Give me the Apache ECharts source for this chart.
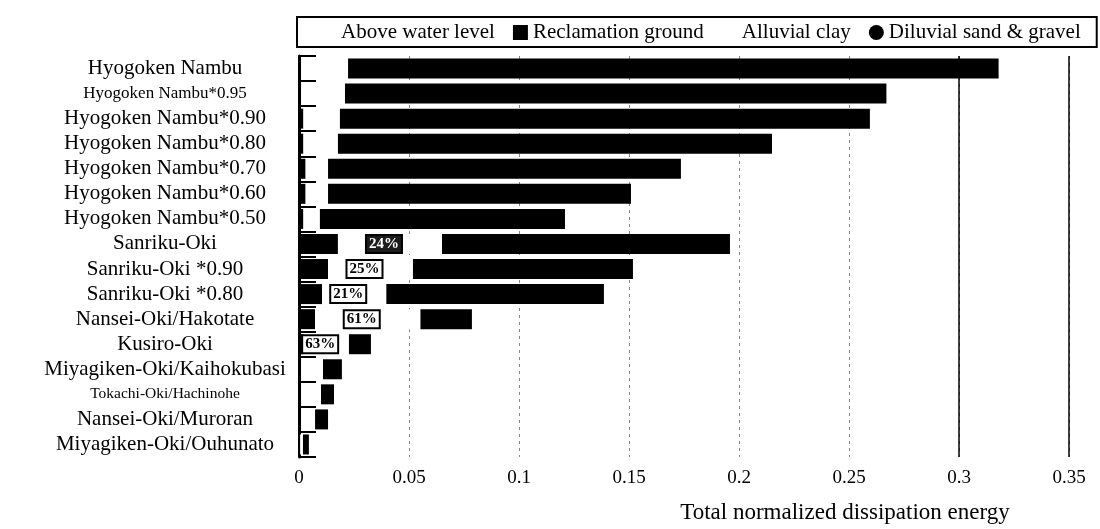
<!DOCTYPE html>
<html>
<head>
<meta charset="utf-8">
<script src="https://cdn.jsdelivr.net/npm/echarts@6/dist/echarts.min.js"></script>
<style>
  html, body { margin: 0; padding: 0; background: #fff; }
  #chart { width: 1100px; height: 529px; }
</style>
</head>
<body>
<div id="chart"></div>
<script>
// Earthquake records / scaled inputs, top to bottom
const categories = [
  'Hyogoken Nambu',
  'Hyogoken Nambu*0.95',
  'Hyogoken Nambu*0.90',
  'Hyogoken Nambu*0.80',
  'Hyogoken Nambu*0.70',
  'Hyogoken Nambu*0.60',
  'Hyogoken Nambu*0.50',
  'Sanriku-Oki',
  'Sanriku-Oki *0.90',
  'Sanriku-Oki *0.80',
  'Nansei-Oki/Hakotate',
  'Kusiro-Oki',
  'Miyagiken-Oki/Kaihokubasi',
  'Tokachi-Oki/Hachinohe',
  'Nansei-Oki/Muroran',
  'Miyagiken-Oki/Ouhunato'
];

// Normalized dissipation energy per soil layer (stacked left to right)
const aboveWater   = [0, 0, 0, 0, 0, 0, 0, 0, 0, 0, 0, 0, 0, 0, 0, 0];
const reclamation  = [0.001, 0.001, 0.002, 0.002, 0.003, 0.003, 0.002, 0.0177, 0.0132, 0.0105, 0.0073, 0.002, 0.001, 0.001, 0.001, 0.0005];
const alluvialClay = [0.0213, 0.0199, 0.0166, 0.0157, 0.0102, 0.0102, 0.0075, 0.0473, 0.0386, 0.0292, 0.0479, 0.0207, 0.0099, 0.009, 0.0063, 0.0013];
const diluvial     = [0.2957, 0.2461, 0.2409, 0.1973, 0.1604, 0.1377, 0.1114, 0.1309, 0.1000, 0.0989, 0.0234, 0.0100, 0.0086, 0.0059, 0.0059, 0.0027];

// Records whose alluvial-clay share of the total is annotated
const shareLabelled = ['Sanriku-Oki', 'Sanriku-Oki *0.90', 'Sanriku-Oki *0.80', 'Nansei-Oki/Hakotate', 'Kusiro-Oki'];
const shadedShare = ['Sanriku-Oki'];

// Category names set in a smaller type
const smallNames = { 'Hyogoken Nambu*0.95': 17, 'Tokachi-Oki/Hachinohe': 15.5 };

const FONT = "'Liberation Serif', 'Times New Roman', serif";

const total = i => aboveWater[i] + reclamation[i] + alluvialClay[i] + diluvial[i];
const sharePct = i => Math.round(100 * alluvialClay[i] / total(i)) + '%';

const clayData = alluvialClay.map((v, i) => {
  if (!shareLabelled.includes(categories[i])) return v;
  const dark = shadedShare.includes(categories[i]);
  return {
    value: v,
    label: {
      show: true,
      position: 'inside',
      offset: [-6, 0],
      formatter: sharePct(i),
      fontFamily: FONT,
      fontSize: 15,
      fontWeight: 'bold',
      color: dark ? '#fff' : '#000',
      backgroundColor: dark ? '#1c1c1c' : '#fff',
      borderColor: '#000',
      borderWidth: 2,
      padding: [1, 2, 0, 2]
    }
  };
});

const barSeries = (name, data, color, extra) => Object.assign({
  name,
  type: 'bar',
  stack: 'energy',
  data,
  barWidth: 20,
  itemStyle: { color },
  emphasis: { disabled: true },
  label: { show: false }
}, extra || {});

const catLabelStyle = { fontFamily: FONT, fontSize: 21, color: '#000', align: 'center' };

const chart = echarts.init(document.getElementById('chart'), null, { renderer: 'canvas' });

chart.setOption({
  animation: false,
  backgroundColor: '#fff',
  textStyle: { fontFamily: FONT, color: '#000' },
  grid: { left: 299, right: 31, top: 56, bottom: 72, containLabel: false },
  legend: {
    left: 297,
    top: 17,
    orient: 'horizontal',
    padding: [5, 16, 4, 24],
    itemGap: 18,
    itemWidth: 15,
    itemHeight: 15,
    borderColor: '#000',
    borderWidth: 2,
    selectedMode: false,
    textStyle: { fontFamily: FONT, fontSize: 21, color: '#000' },
    data: [
      { name: 'Above water level', icon: 'rect' },
      { name: 'Reclamation ground', icon: 'rect' },
      { name: 'Alluvial clay', icon: 'rect' },
      { name: 'Diluvial sand & gravel', icon: 'circle' }
    ]
  },
  xAxis: {
    type: 'value',
    min: 0,
    max: 0.35,
    interval: 0.05,
    axisLine: { show: false },
    axisTick: { show: false },
    splitLine: { show: true, lineStyle: { color: '#888', width: 1, type: [3, 4] } },
    axisLabel: { fontFamily: FONT, fontSize: 19, color: '#000', margin: 12 },
    name: 'Total normalized dissipation energy',
    nameLocation: 'middle',
    nameGap: 44,
    nameTextStyle: { fontFamily: FONT, fontSize: 23, color: '#000', padding: [0, 0, 0, 322] }
  },
  yAxis: {
    type: 'category',
    inverse: true,
    data: categories.map(c => smallNames[c]
      ? { value: c, textStyle: Object.assign({}, catLabelStyle, { fontSize: smallNames[c] }) }
      : c),
    axisLine: { show: true, lineStyle: { color: '#000', width: 3 } },
    axisTick: { show: true, inside: true, interval: 0, length: 17, lineStyle: { color: '#000', width: 2 } },
    splitLine: { show: false },
    axisLabel: Object.assign({ interval: 0, margin: 134 }, catLabelStyle)
  },
  series: [
    barSeries('Above water level', aboveWater, '#fff'),
    barSeries('Reclamation ground', reclamation, '#000'),
    barSeries('Alluvial clay', clayData, '#fff'),
    barSeries('Diluvial sand & gravel', diluvial, '#000', {
      markLine: {
        silent: true,
        symbol: 'none',
        label: { show: false },
        lineStyle: { color: '#000', width: 1.5, type: 'solid' },
        data: [{ xAxis: 0.3 }, { xAxis: 0.35 }]
      }
    })
  ]
});
</script>
</body>
</html>
